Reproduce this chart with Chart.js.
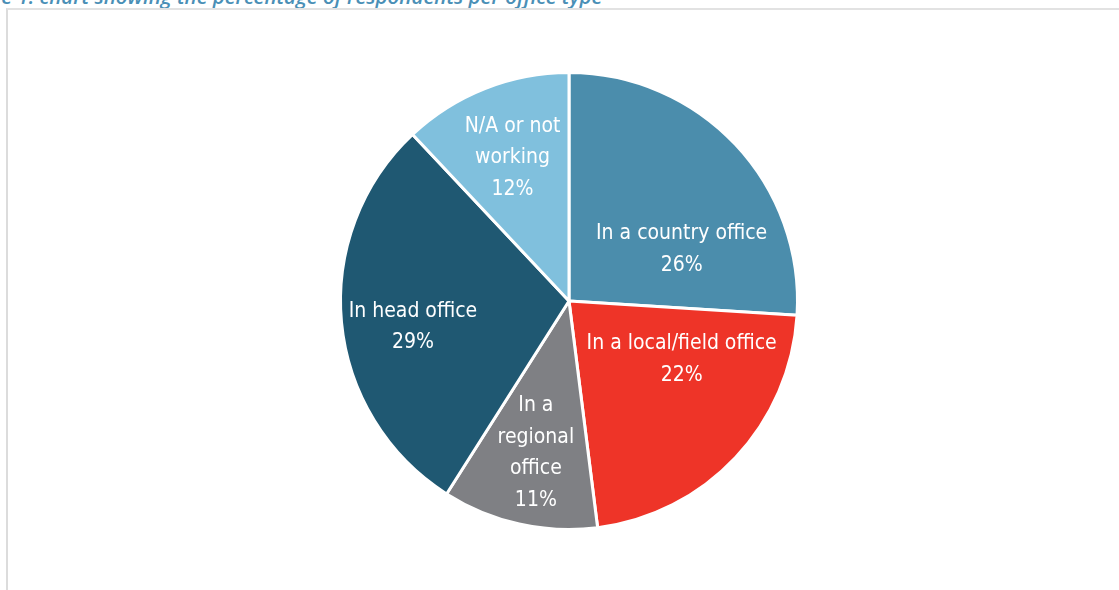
<!DOCTYPE html>
<html>
<head>
<meta charset="utf-8">
<script src="https://cdn.jsdelivr.net/npm/chart.js@4.4.1/dist/chart.umd.min.js"></script>
<style>
  html, body { margin: 0; padding: 0; background: #fff; }
  body { width: 1119px; height: 590px; position: relative; overflow: hidden; }
  #caption {
    position: absolute; top: -14px; left: -46px; white-space: nowrap;
    font: italic 600 20.5px/20.5px "Open Sans", "Noto Sans", sans-serif;
    color: #4a8fb6;
  }
  #frame {
    position: absolute; left: 6px; top: 8px; width: 1200px; height: 700px;
    border-left: 2px solid #dcdcdc; border-top: 2px solid #e2e2e2;
  }
  #wrap { position: absolute; left: 0; top: 0; width: 1119px; height: 590px; }
</style>
</head>
<body>
<div id="caption">Figure 1: chart showing the percentage of respondents per office type</div>
<div id="frame"></div>
<div id="wrap"><canvas id="chart" width="1119" height="590"></canvas></div>
<script>
// Office types, clockwise from twelve o'clock
const categories = [
  ["In a country office"],
  ["In a local/field office"],
  ["In a", "regional", "office"],
  ["In head office"],
  ["N/A or not", "working"]
];
const shares = [26, 22, 11, 29, 12];
const sliceColors = ["#4b8dac", "#ee3428", "#7f8084", "#1f5872", "#80c0dd"];

// Label anchors as fractions of the radius, relative to the pie centre
const labelAnchors = [
  [0.493, -0.225],
  [0.493, 0.256],
  [-0.145, 0.665],
  [-0.683, 0.115],
  [-0.247, -0.626]
];

const sliceLabels = {
  id: "sliceLabels",
  afterDatasetsDraw(chart) {
    const ctx = chart.ctx;
    const meta = chart.getDatasetMeta(0);
    ctx.save();
    ctx.fillStyle = "#ffffff";
    ctx.textAlign = "center";
    ctx.textBaseline = "middle";
    ctx.font = '21px "Liberation Sans Narrow", "DejaVu Sans Condensed", sans-serif';
    const lineH = 31.5;
    meta.data.forEach((arc, i) => {
      const r = arc.outerRadius;
      const cx = arc.x + labelAnchors[i][0] * r;
      const cy = arc.y + labelAnchors[i][1] * r;
      const lines = categories[i].concat([shares[i] + "%"]);
      const top = cy - (lines.length - 1) * lineH / 2;
      lines.forEach((t, k) => ctx.fillText(t, cx, top + k * lineH));
    });
    ctx.restore();
  }
};

new Chart(document.getElementById("chart"), {
  type: "pie",
  data: {
    labels: categories.map(c => c.join(" ")),
    datasets: [{
      data: shares,
      backgroundColor: sliceColors,
      borderColor: "#ffffff",
      borderWidth: 3
    }]
  },
  options: {
    responsive: false,
    animation: false,
    layout: { padding: { left: 19, right: 0, top: 71, bottom: 59 } },
    plugins: {
      legend: { display: false },
      tooltip: { enabled: false }
    }
  },
  plugins: [sliceLabels]
});
</script>
</body>
</html>
